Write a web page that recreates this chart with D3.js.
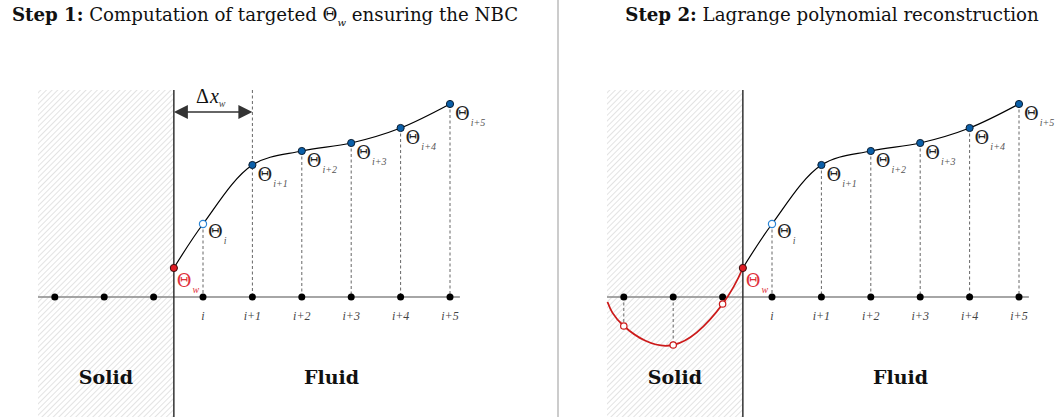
<!DOCTYPE html>
<html><head><meta charset="utf-8">
<script src="https://cdn.jsdelivr.net/npm/d3@7"></script>
<style>body{margin:0;background:#fff}svg{display:block}</style>
</head><body>
<svg id="c" width="1057" height="417"></svg>
<script>
// ---- data ----
const nodePos = [-3, -2, -1, 0, 1, 2, 3, 4, 5];          // grid nodes (i = 0)
const tickLabels = ["i", "i+1", "i+2", "i+3", "i+4", "i+5"];
const thetaSubs = ["i", "i+1", "i+2", "i+3", "i+4", "i+5"];
const fluidPos = [0, 1, 2, 3, 4, 5];
const thetaVals = [7.3, 13.2, 14.6, 15.4, 16.9, 19.3];
const wallPos = -0.59;
const thetaW = 2.9;
const ghostPos = [-3, -2, -1];
const ghostVals = [-2.9, -4.8, -0.7];
const redTail = [-3.33, -0.5];
const titles = [["Step 1:", " Computation of targeted Θ", "w", " ensuring the NBC"],
                ["Step 2:", " Lagrange polynomial reconstruction", "", ""]];

const svg = d3.select("#c");
const x = d3.scaleLinear().domain([0, 5]).range([203, 450]);
const y = d3.scaleLinear().domain([0, 19.3]).range([297, 104]);
const leftEdge = -3.34, rightEdge = 5.2, topVal = 20.7;

const defs = svg.append("defs");
const pat = defs.append("pattern").attr("id", "hatch").attr("patternUnits", "userSpaceOnUse")
  .attr("width", 4).attr("height", 4).attr("patternTransform", "rotate(45)");
pat.append("line").attr("x1", 0).attr("y1", 0).attr("x2", 0).attr("y2", 4)
  .attr("stroke", "#c8c8c8").attr("stroke-width", 1);

const serif = "'DejaVu Serif', 'Liberation Serif', serif";
const tserif = "'Liberation Serif', serif";

// divider
svg.append("line").attr("x1", 558).attr("x2", 558).attr("y1", 0).attr("y2", 417)
  .attr("stroke", "#999").attr("stroke-width", 1);

function theta(g, px, py, sub, color, subColor, dx, dy) {
  const t = g.append("text").attr("x", px + dx).attr("y", py + dy)
    .attr("font-family", serif).attr("font-size", 18).attr("fill", color);
  t.append("tspan").text("Θ");
  t.append("tspan").attr("dy", 6).attr("dx", 1).attr("font-size", 10).attr("font-style", "italic")
    .attr("fill", subColor).attr("font-family", tserif).text(sub);
}

function panel(g, step) {
  // hatch
  g.append("rect").attr("x", x(leftEdge)).attr("y", y(topVal))
    .attr("width", x(wallPos) - x(leftEdge)).attr("height", 417 - y(topVal))
    .attr("fill", "url(#hatch)");

  // dashed verticals
  fluidPos.forEach((p, k) => {
    g.append("line").attr("x1", x(p)).attr("x2", x(p))
      .attr("y1", (step === 1 && k === 1) ? y(topVal) : y(thetaVals[k])).attr("y2", y(0))
      .attr("stroke", "#666").attr("stroke-width", 1).attr("stroke-dasharray", "3,2.5");
  });
  if (step === 2) {
    ghostPos.forEach((p, k) => {
      g.append("line").attr("x1", x(p)).attr("x2", x(p))
        .attr("y1", y(0)).attr("y2", y(ghostVals[k]))
        .attr("stroke", "#666").attr("stroke-width", 1).attr("stroke-dasharray", "3,2.5");
    });
  }

  // axis line
  g.append("line").attr("x1", x(leftEdge)).attr("x2", x(rightEdge))
    .attr("y1", y(0)).attr("y2", y(0)).attr("stroke", "#888").attr("stroke-width", 1.5);

  // wall
  g.append("line").attr("x1", x(wallPos)).attr("x2", x(wallPos))
    .attr("y1", y(topVal)).attr("y2", 417).attr("stroke", "#333").attr("stroke-width", 1.5);

  // grid nodes
  g.selectAll(".node").data(nodePos).join("circle").attr("cx", d => x(d)).attr("cy", y(0))
    .attr("r", 3.5).attr("fill", "#000");

  // tick labels
  g.selectAll(".tl").data(tickLabels).join("text")
    .attr("x", (d, k) => x(fluidPos[k])).attr("y", 320).attr("text-anchor", "middle")
    .attr("font-family", tserif).attr("font-style", "italic").attr("font-size", 12)
    .attr("fill", "#444").text(d => d);

  // black curve
  const pts = [[wallPos, thetaW]].concat(fluidPos.map((p, k) => [p, thetaVals[k]]));
  const line = d3.line().x(d => x(d[0])).y(d => y(d[1])).curve(d3.curveCatmullRom.alpha(0.5));
  g.append("path").attr("d", line(pts)).attr("fill", "none").attr("stroke", "#000").attr("stroke-width", 1.2);

  // red curve
  if (step === 2) {
    const rp = [redTail].concat(ghostPos.map((p, k) => [p, ghostVals[k]])).concat([[wallPos, thetaW]]);
    const rl = d3.line().x(d => x(d[0])).y(d => y(d[1])).curve(d3.curveNatural);
    g.append("path").attr("d", rl(rp)).attr("fill", "none").attr("stroke", "#cc1a1a").attr("stroke-width", 1.8);
    g.selectAll(".gh").data(ghostPos).join("circle").attr("cx", d => x(d))
      .attr("cy", (d, k) => y(ghostVals[k])).attr("r", 3.2)
      .attr("fill", "#fff").attr("stroke", "#cc1a1a").attr("stroke-width", 1.2);
  }

  // theta points
  fluidPos.forEach((p, k) => {
    const c = g.append("circle").attr("cx", x(p)).attr("cy", y(thetaVals[k])).attr("r", 3.6);
    if (k === 0) c.attr("fill", "#fff").attr("stroke", "#2d86d6").attr("stroke-width", 1.2);
    else c.attr("fill", "#0b5fa8").attr("stroke", "#0a1e33").attr("stroke-width", 1);
    theta(g, x(p), y(thetaVals[k]), thetaSubs[k], "#222", "#555", 5, k === 0 ? 14 : 16);
  });
  // theta w
  g.append("circle").attr("cx", x(wallPos)).attr("cy", y(thetaW)).attr("r", 3.6)
    .attr("fill", "#e01e26").attr("stroke", "#3a0a0a").attr("stroke-width", 1);
  theta(g, x(wallPos), y(thetaW), "w", "#e0303a", "#e0303a", 3, 19);

  // delta x arrow
  if (step === 1) {
    const ay = 112, x0 = x(wallPos), x1 = x(1);
    g.append("line").attr("x1", x0 + 10).attr("x2", x1 - 10).attr("y1", ay).attr("y2", ay)
      .attr("stroke", "#333").attr("stroke-width", 1.3);
    g.append("path").attr("d", `M${x0},${ay} L${x0 + 14},${ay - 7} L${x0 + 14},${ay + 7} Z`).attr("fill", "#333");
    g.append("path").attr("d", `M${x1},${ay} L${x1 - 14},${ay - 7} L${x1 - 14},${ay + 7} Z`).attr("fill", "#333");
    const dl = g.append("text").attr("x", 196).attr("y", 103)
      .attr("font-family", tserif).attr("font-size", 20).attr("fill", "#111");
    dl.append("tspan").text("Δ");
    dl.append("tspan").attr("font-style", "italic").attr("dx", 1).text("x");
    dl.append("tspan").attr("dy", 4).attr("font-size", 10).attr("font-style", "italic").attr("fill", "#444").text("w");
  }

  // region labels
  g.append("text").attr("x", (x(leftEdge) + x(wallPos)) / 2).attr("y", 384).attr("text-anchor", "middle")
    .attr("font-family", serif).attr("font-weight", "bold").attr("font-size", 19).attr("fill", "#111").text("Solid");
  g.append("text").attr("x", x(2.6)).attr("y", 384).attr("text-anchor", "middle")
    .attr("font-family", serif).attr("font-weight", "bold").attr("font-size", 19).attr("fill", "#111").text("Fluid");
}

panel(svg.append("g"), 1);
panel(svg.append("g").attr("transform", "translate(569,0)"), 2);

// titles
function title(cx, parts) {
  const t = svg.append("text").attr("x", cx).attr("y", 21).attr("text-anchor", "middle")
    .attr("font-family", serif).attr("font-size", 18.2).attr("fill", "#111");
  t.append("tspan").attr("font-weight", "bold").text(parts[0]);
  t.append("tspan").text(parts[1]);
  if (parts[2]) {
    t.append("tspan").attr("dy", 5).attr("font-size", 10).attr("font-style", "italic").text(parts[2]);
    t.append("tspan").attr("dy", -5).text(parts[3]);
  }
}
title(265, titles[0]);
title(832, titles[1]);
</script>
</body></html>
